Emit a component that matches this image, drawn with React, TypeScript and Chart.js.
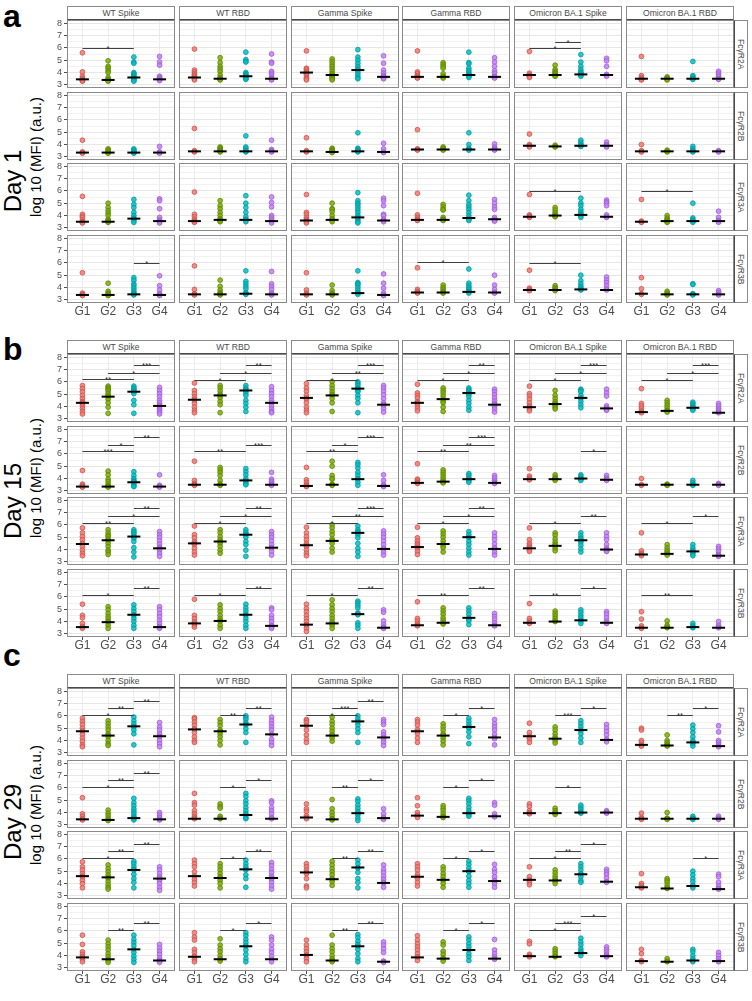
import React, { useEffect, useRef } from 'react';
import { Chart, registerables } from 'chart.js';

Chart.register(...registerables);

const FONT = "'Liberation Sans', Arial, Helvetica, sans-serif";
Chart.defaults.font.family = FONT;

const groups = ['G1', 'G2', 'G3', 'G4'];
const antigens = ['WT Spike', 'WT RBD', 'Gamma Spike', 'Gamma RBD', 'Omicron BA.1 Spike', 'Omicron BA.1 RBD'];
const receptors = ['FcγR2A', 'FcγR2B', 'FcγR3A', 'FcγR3B'];
const dayLabels = ['Day 1', 'Day 15', 'Day 29'];
const panelLetters = ['a', 'b', 'c'];
const yTitle = 'log 10 (MFI) (a.u.)';
const yTickValues = [3, 3.5, 4, 4.5, 5, 5.5, 6, 6.5, 7, 7.5, 8];

// ---------- Day 1 : values per antigen -> per group ----------
const d1_R2A = [
  [[5.6,4.05,3.7,3.55,3.45,3.4,3.35,3.3],[4.95,4.5,4.35,4.15,4.0,3.6,3.45,3.4,3.35,3.3],[5.25,4.85,4.75,4.0,3.9,3.8,3.7,3.6,3.55,3.45,3.4,3.3],[5.3,4.85,4.6,3.7,3.6,3.5,3.45,3.4,3.35]],
  [[5.9,4.2,4.05,3.9,3.8,3.7,3.6,3.5,3.4],[5.2,4.8,4.5,4.3,4.1,3.8,3.6,3.5,3.45,3.4],[5.65,5.05,4.9,4.85,4.0,3.9,3.8,3.7,3.6,3.5,3.45],[5.5,4.85,4.75,4.1,3.95,3.8,3.6,3.5,3.45,3.4]],
  [[5.75,4.35,4.25,4.1,4.0,3.9,3.8,3.6,3.5,3.4],[5.1,4.9,4.7,4.5,4.3,4.1,3.9,3.8,3.7,3.6,3.5,3.4],[5.85,5.25,5.0,4.75,4.5,4.3,4.2,4.0,3.8,3.6,3.5],[5.35,4.75,4.2,3.95,3.75,3.65,3.55,3.5]],
  [[5.75,4.05,3.9,3.75,3.65,3.6,3.55],[4.8,4.65,4.5,4.35,3.9,3.7,3.65,3.55],[5.65,4.8,4.7,4.35,4.15,4.0,3.85,3.8,3.7,3.6],[5.2,4.85,4.5,4.15,3.95,3.7,3.65,3.55]],
  [[5.7,3.95,3.8,3.75,3.7,3.6],[4.6,4.25,4.1,4.0,3.9,3.8,3.75,3.7],[5.45,4.85,4.5,4.25,4.05,3.95,3.85,3.8,3.7],[5.15,4.95,4.5,3.85,3.8,3.7]],
  [[5.3,3.75,3.6,3.5,3.45,3.4],[3.65,3.55,3.5,3.45,3.4],[4.9,3.75,3.65,3.5,3.45],[4.1,3.95,3.8,3.65,3.5,3.45]],
];
const d1_R2B = [
  [[4.35,3.4,3.35,3.3],[3.65,3.55,3.45,3.35,3.3],[3.65,3.55,3.45,3.35,3.3],[3.85,3.4,3.35,3.3]],
  [[5.3,3.5,3.45,3.4],[3.8,3.7,3.6,3.5,3.45,3.4],[4.7,3.8,3.65,3.5,3.45,3.4],[4.35,3.6,3.5,3.45,3.4]],
  [[4.55,3.5,3.45,3.4],[3.7,3.6,3.5,3.4,3.35],[4.95,3.7,3.6,3.5,3.45,3.4],[4.1,3.65,3.4,3.35]],
  [[5.2,3.65,3.6,3.55],[3.8,3.7,3.6,3.55],[4.95,4.0,3.7,3.6,3.55],[4.05,3.8,3.7,3.6,3.55]],
  [[4.85,4.0,3.9,3.8],[3.95,3.85,3.8],[4.35,4.15,4.0,3.9,3.85],[4.2,4.0,3.9,3.8]],
  [[4.0,3.5,3.45,3.4],[3.55,3.45,3.4],[3.85,3.65,3.5,3.45,3.4],[3.5,3.45,3.4]],
];
const d1_R3A = [
  [[5.55,4.1,3.95,3.85,3.65,3.5,3.45,3.4],[5.0,4.65,4.4,4.2,4.0,3.7,3.6,3.5,3.45],[5.3,4.9,4.65,4.25,4.0,3.8,3.75,3.6,3.45],[5.35,5.2,4.55,3.85,3.65,3.55,3.5,3.4]],
  [[5.9,4.1,3.9,3.7,3.55,3.5,3.45],[5.2,4.8,4.55,4.25,4.0,3.75,3.65,3.55,3.5],[5.6,5.0,4.65,4.25,3.9,3.7,3.65,3.5],[5.5,5.05,4.7,4.0,3.85,3.7,3.55,3.4]],
  [[5.7,4.25,4.1,3.85,3.7,3.6,3.5,3.4],[5.0,4.55,4.5,4.3,4.0,3.75,3.65,3.5],[5.85,5.2,5.0,4.85,4.65,4.45,4.25,4.0,3.85,3.65,3.5,3.4],[5.4,5.2,4.8,4.1,4.0,3.7,3.6,3.5]],
  [[5.8,4.05,3.85,3.7,3.65,3.6],[4.9,4.7,4.5,4.45,3.85,3.7,3.65,3.6],[5.65,5.2,4.9,4.7,4.5,4.25,4.0,3.8,3.7,3.6],[5.3,5.0,4.7,4.5,3.85,3.7,3.6,3.55]],
  [[5.7,4.05,3.95,3.9,3.85],[4.65,4.45,4.25,4.1,4.0,3.95,3.9],[5.4,5.0,4.8,4.5,4.3,4.15,4.05,4.0,3.85],[5.25,5.1,5.0,4.8,4.05,3.9,3.85]],
  [[5.3,3.55,3.5,3.45],[4.0,3.8,3.7,3.6,3.5,3.45],[5.0,3.8,3.65,3.55,3.45],[4.35,3.85,3.6,3.55,3.45]],
];
const d1_R3B = [
  [[5.2,3.55,3.45,3.4,3.35],[4.35,3.7,3.55,3.45,3.4,3.35],[4.8,4.6,4.3,4.15,3.95,3.75,3.6,3.5,3.45,3.4],[4.95,4.15,3.8,3.5,3.4,3.35]],
  [[5.75,3.85,3.5,3.45,3.4],[4.6,4.1,3.8,3.6,3.5,3.45,3.4],[5.35,4.5,4.3,4.1,3.9,3.6,3.5,3.45],[5.3,4.3,4.1,3.85,3.55,3.45,3.4]],
  [[5.2,3.8,3.55,3.45,3.4],[4.2,3.75,3.55,3.45,3.4],[5.35,4.4,4.3,4.2,4.0,3.8,3.6,3.55,3.45],[5.1,4.35,3.95,3.55,3.4,3.35]],
  [[5.6,3.85,3.7,3.6,3.55],[4.2,4.0,3.85,3.7,3.6,3.55],[5.5,4.35,4.15,4.0,3.85,3.7,3.65,3.55],[5.0,4.2,3.85,3.6,3.55]],
  [[5.4,3.95,3.85,3.8,3.75],[4.15,4.0,3.9,3.8,3.75],[5.0,4.55,4.3,4.1,3.95,3.85,3.8],[4.85,4.6,4.4,4.15,3.9,3.8]],
  [[4.8,3.9,3.5,3.45],[3.7,3.55,3.45,3.4],[4.3,4.25,3.5,3.45,3.4],[3.75,3.6,3.45,3.4]],
];
const d1_med = [
  [[3.45,3.4,3.6,3.45],[3.6,3.5,3.7,3.5],[4.0,3.8,4.2,3.65],[3.65,3.65,3.8,3.65],[3.8,3.8,3.85,3.8],[3.5,3.5,3.5,3.5]],
  [[3.35,3.35,3.35,3.35],[3.45,3.45,3.45,3.45],[3.45,3.4,3.45,3.4],[3.6,3.6,3.6,3.6],[3.9,3.85,3.9,3.9],[3.45,3.45,3.45,3.45]],
  [[3.5,3.5,3.75,3.55],[3.55,3.65,3.65,3.55],[3.6,3.65,3.85,3.6],[3.65,3.65,3.8,3.7],[3.9,4.0,4.05,3.9],[3.5,3.55,3.55,3.55]],
  [[3.4,3.4,3.45,3.4],[3.45,3.45,3.5,3.45],[3.45,3.45,3.55,3.4],[3.6,3.6,3.65,3.6],[3.8,3.8,3.85,3.8],[3.5,3.45,3.45,3.45]],
];
// [row, col, fromGroup, toGroup, y, label]
const d1_sig = [
  [0,0,0,2,6.0,'*'],[0,4,0,2,6.0,'*'],[0,4,1,2,6.5,'*'],
  [2,4,0,2,6.0,'*'],[2,5,0,2,6.0,'*'],
  [3,0,2,3,6.0,'*'],[3,3,0,2,6.05,'*'],[3,4,0,2,6.0,'*'],
];

// ---------- Day 15 ----------
const d15_R2A = [
  [[5.7,5.45,5.2,4.9,4.65,4.4,4.3,4.25,4.05,3.85,3.6,3.4],[5.65,5.5,5.4,5.25,5.05,4.9,4.8,4.6,4.3,3.95,3.45],[5.65,5.5,5.4,5.25,5.2,5.05,4.5,4.15,3.45],[5.55,5.3,5.05,4.8,4.5,4.3,4.1,4.05,3.85,3.7,3.55,3.4]],
  [[5.9,5.3,5.05,4.8,4.6,4.5,4.25,3.95,3.7,3.5],[5.7,5.5,5.25,5.0,4.9,4.7,4.4,4.15,3.5],[5.7,5.5,5.35,5.3,5.1,4.9,4.5,4.25,3.95,3.6],[5.6,5.3,5.05,4.8,4.5,4.3,4.05,3.8,3.6,3.5]],
  [[5.85,5.5,5.25,4.9,4.7,4.6,4.3,3.95,3.7,3.5],[6.0,5.7,5.45,5.2,5.0,4.9,4.65,4.3,3.6],[6.0,5.85,5.7,5.5,5.45,5.3,5.2,4.9,4.65,4.3,3.5],[5.7,5.5,5.25,4.95,4.65,4.3,4.15,4.1,3.85,3.55]],
  [[5.8,5.1,4.9,4.7,4.4,4.3,4.25,4.05,3.85,3.65],[5.5,5.3,5.1,4.85,4.6,4.45,4.3,3.95,3.6],[5.5,5.35,5.25,5.1,5.0,4.8,4.5,4.25,3.95,3.7],[5.4,5.2,4.95,4.7,4.45,4.25,4.15,4.0,3.8,3.55]],
  [[5.65,5.05,4.85,4.6,4.3,4.05,3.95,3.8,3.65],[5.3,4.9,4.65,4.4,4.25,4.2,4.1,3.95,3.8],[5.4,5.3,5.2,4.9,4.7,4.65,4.4,4.15,3.9],[5.4,5.1,4.85,4.05,3.9,3.85,3.75,3.7]],
  [[5.45,4.25,4.05,3.85,3.65,3.55,3.5],[4.5,4.3,4.1,3.9,3.7,3.65,3.55],[4.35,4.2,4.05,3.95,3.9,3.8,3.7],[4.25,4.05,3.85,3.7,3.55,3.5]],
];
const d15_R2B = [
  [[4.65,3.55,3.45,3.35,3.3],[4.6,4.3,3.95,3.75,3.55,3.4,3.35,3.3],[4.55,4.25,4.0,3.85,3.75,3.7,3.55,3.4,3.35],[4.3,3.45,3.4,3.35,3.3]],
  [[5.4,3.85,3.6,3.5,3.45],[4.9,4.7,4.5,4.25,3.85,3.55,3.5,3.45],[4.8,4.55,4.3,4.0,3.85,3.75,3.6,3.5],[4.5,3.95,3.8,3.7,3.55,3.5,3.45]],
  [[4.9,3.9,3.7,3.5,3.4,3.35],[5.4,5.0,4.25,4.0,3.95,3.55,3.5,3.45],[5.3,5.1,4.85,4.5,4.25,4.0,3.95,3.7,3.45],[4.3,3.85,3.5,3.4,3.35]],
  [[5.2,3.95,3.85,3.7,3.65,3.6],[4.7,4.5,4.3,4.1,3.9,3.75,3.7,3.65],[4.4,4.25,4.05,3.95,3.85,3.7],[4.25,4.05,3.85,3.7,3.65,3.6]],
  [[4.8,4.2,4.05,3.95,3.9],[4.3,4.1,4.0,3.95,3.85],[4.3,4.15,4.0,3.95,3.85],[4.25,4.05,3.95,3.9,3.85]],
  [[4.0,3.5,3.45],[3.55,3.5,3.45],[3.85,3.65,3.5,3.45],[3.6,3.5,3.45]],
];
const d15_R3A = [
  [[5.75,5.35,5.05,4.8,4.5,4.45,4.25,3.95,3.7,3.5],[5.6,5.35,5.15,5.05,4.85,4.75,4.5,4.25,3.95,3.8,3.6],[5.6,5.45,5.35,5.2,5.05,4.9,4.65,4.15,3.8,3.4],[5.45,5.2,5.0,4.7,4.45,4.2,4.1,3.95,3.7,3.45]],
  [[5.9,5.2,4.95,4.65,4.5,4.4,4.1,3.8,3.55],[5.6,5.35,5.05,4.8,4.65,4.5,4.25,3.95,3.7],[5.6,5.4,5.25,5.2,5.0,4.65,4.4,3.95,3.45],[5.45,5.2,5.0,4.7,4.4,4.15,4.1,3.85,3.55]],
  [[5.8,5.35,5.05,4.8,4.5,4.35,4.25,3.95,3.7,3.5],[6.0,5.75,5.45,5.2,4.85,4.7,4.5,4.1,3.8],[5.9,5.6,5.45,5.35,5.2,4.95,4.5,4.1,3.8,3.45],[5.5,5.25,5.0,4.7,4.4,4.1,4.05,3.8,3.55]],
  [[5.8,4.95,4.7,4.5,4.35,4.2,4.1,3.85,3.6],[5.5,5.25,5.0,4.7,4.45,4.3,4.15,3.8],[5.45,5.2,5.0,4.95,4.65,4.4,4.1,3.8,3.55],[5.35,5.05,4.8,4.45,4.15,4.05,3.8,3.55]],
  [[5.75,4.8,4.5,4.35,4.2,4.1,3.95,3.85],[5.35,5.15,4.85,4.6,4.4,4.3,4.1,3.9],[5.35,5.1,4.9,4.75,4.6,4.35,4.05,3.8],[5.35,5.05,4.8,4.4,4.1,4.0,3.9,3.85]],
  [[5.35,3.9,3.7,3.6,3.5],[4.4,4.15,3.95,3.8,3.65,3.55],[4.4,4.15,3.95,3.85,3.8,3.65,3.5],[4.25,4.05,3.85,3.6,3.5,3.45]],
];
const d15_R3B = [
  [[5.4,4.5,4.3,3.85,3.6,3.55,3.45],[5.2,4.95,4.65,4.4,4.2,4.0,3.95,3.7,3.45],[5.35,5.05,4.8,4.55,4.5,4.25,4.0,3.7,3.45],[5.2,4.95,4.65,4.4,4.1,3.85,3.6,3.55,3.45]],
  [[5.8,4.5,4.25,4.0,3.85,3.7,3.55],[5.35,5.05,4.8,4.5,4.25,4.05,4.0,3.7,3.45],[5.4,5.1,4.85,4.6,4.5,4.25,4.0,3.7,3.45],[5.1,4.95,4.5,4.25,4.0,3.7,3.65,3.55,3.45]],
  [[5.4,5.05,4.8,4.5,4.25,4.0,3.75,3.7,3.45,3.2],[5.75,5.35,5.05,4.8,4.5,4.25,4.0,3.85,3.7,3.45],[5.65,5.5,5.3,5.1,4.7,4.6,4.55,3.9,3.7,3.45],[4.95,4.75,4.05,3.75,3.55,3.5,3.45]],
  [[5.6,4.25,4.05,3.85,3.7,3.65],[5.1,4.85,4.6,4.3,4.1,3.9,3.8],[5.1,4.85,4.6,4.3,4.2,4.05,3.75],[4.65,4.4,4.2,3.9,3.7,3.65]],
  [[5.45,4.25,4.05,3.9,3.85],[4.85,4.65,4.45,4.25,4.05,4.0],[4.95,4.75,4.5,4.3,4.1,4.05,3.85],[4.8,4.6,4.3,4.05,3.9,3.85]],
  [[4.8,4.2,3.65,3.5,3.45],[4.05,3.7,3.55,3.5],[3.85,3.65,3.55,3.5],[4.0,3.7,3.55,3.5]],
];
const d15_med = [
  [[4.3,4.8,5.2,4.05],[4.55,4.9,5.3,4.3],[4.7,4.9,5.45,4.15],[4.3,4.6,5.1,4.15],[3.95,4.2,4.7,3.85],[3.55,3.65,3.9,3.5]],
  [[3.35,3.35,3.7,3.35],[3.5,3.5,3.85,3.5],[3.4,3.5,3.95,3.4],[3.65,3.75,3.95,3.65],[3.95,3.95,4.0,3.9],[3.5,3.5,3.5,3.5]],
  [[4.45,4.75,5.05,4.1],[4.5,4.65,5.2,4.15],[4.35,4.7,5.35,4.05],[4.2,4.45,5.0,4.05],[4.1,4.3,4.75,4.0],[3.6,3.65,3.85,3.5]],
  [[3.55,3.95,4.55,3.55],[3.85,4.05,4.55,3.65],[3.75,3.85,4.6,3.5],[3.7,3.9,4.3,3.7],[3.9,4.0,4.1,3.9],[3.5,3.5,3.55,3.5]],
];
const d15_sig = [
  [0,0,0,2,6.2,'**'],[0,0,1,3,6.75,'*'],[0,0,2,3,7.35,'***'],
  [0,1,0,2,6.15,'*'],[0,1,1,3,6.75,'*'],[0,1,2,3,7.35,'**'],
  [0,2,0,2,6.15,'*'],[0,2,1,3,6.75,'**'],[0,2,2,3,7.35,'***'],
  [0,3,0,2,6.15,'*'],[0,3,1,3,6.75,'*'],[0,3,2,3,7.35,'**'],
  [0,4,0,2,6.15,'*'],[0,4,1,3,6.75,'*'],[0,4,2,3,7.35,'***'],
  [0,5,0,2,6.15,'*'],[0,5,1,3,6.75,'*'],[0,5,2,3,7.35,'***'],
  [1,0,0,2,6.2,'***'],[1,0,1,2,6.75,'*'],[1,0,2,3,7.35,'**'],
  [1,1,0,2,6.2,'**'],[1,1,2,3,6.75,'***'],
  [1,2,0,2,6.2,'**'],[1,2,1,2,6.75,'*'],[1,2,2,3,7.35,'***'],
  [1,3,0,2,6.2,'**'],[1,3,1,3,6.75,'**'],[1,3,2,3,7.35,'***'],
  [1,4,2,3,6.2,'*'],
  [2,0,0,2,6.15,'**'],[2,0,1,3,6.75,'*'],[2,0,2,3,7.35,'**'],
  [2,1,0,2,6.15,'*'],[2,1,1,3,6.75,'*'],[2,1,2,3,7.35,'**'],
  [2,2,0,2,6.15,'*'],[2,2,1,3,6.75,'**'],[2,2,2,3,7.35,'***'],
  [2,3,0,2,6.15,'*'],[2,3,1,3,6.75,'*'],[2,3,2,3,7.35,'**'],
  [2,4,0,2,6.15,'*'],[2,4,2,3,6.75,'**'],
  [2,5,0,2,6.15,'*'],[2,5,2,3,6.75,'*'],
  [3,0,0,2,6.15,'*'],[3,0,2,3,6.75,'**'],
  [3,1,0,2,6.15,'*'],[3,1,2,3,6.75,'**'],
  [3,2,0,2,6.15,'*'],[3,2,2,3,6.75,'**'],
  [3,3,0,2,6.15,'**'],[3,3,2,3,6.75,'**'],
  [3,4,0,2,6.15,'**'],[3,4,2,3,6.75,'*'],
  [3,5,0,2,6.15,'**'],
];

// ---------- Day 29 ----------
const d29_R2A = [
  [[5.8,5.55,5.3,5.0,4.8,4.75,4.5,4.2,3.95,3.65,3.5],[5.6,5.35,5.1,4.85,4.55,4.4,4.3,4.0,3.75,3.6],[5.9,5.6,5.35,5.15,5.1,4.85,4.55,3.65],[5.45,5.1,4.85,4.55,4.35,4.3,4.0,3.75,3.5]],
  [[5.85,5.75,5.5,5.25,4.95,4.9,4.65,4.3,4.0,3.85],[5.7,5.45,5.2,4.85,4.75,4.55,4.3,4.0,3.65],[6.0,5.85,5.7,5.45,5.3,5.25,4.95,4.65,3.85],[5.9,5.6,5.35,5.1,4.85,4.5,4.1,3.85,3.6]],
  [[5.7,5.6,5.45,5.2,4.85,4.45,4.1,3.85],[5.9,5.55,5.3,5.0,4.75,4.5,4.4,4.2,3.95],[6.0,5.75,5.55,5.5,5.25,4.95,4.65,3.85],[5.7,5.5,5.3,4.7,4.45,4.25,4.1,3.85,3.6]],
  [[5.7,5.5,5.25,4.9,4.75,4.55,4.2,3.85],[5.35,5.1,4.85,4.55,4.4,4.2,3.95,3.65],[5.8,5.55,5.3,5.1,5.0,4.7,4.3,3.75],[5.7,5.35,5.1,4.85,4.5,4.25,4.15,3.65]],
  [[5.4,4.65,4.35,4.25,4.1,3.85],[5.1,4.85,4.55,4.3,4.15,4.0,3.8],[5.6,5.35,5.1,4.85,4.8,4.55,4.2,3.85],[5.3,5.0,4.75,4.45,4.1,4.05,3.9]],
  [[5.0,4.85,4.0,3.85,3.65,3.6,3.55],[4.45,4.0,3.85,3.7,3.6,3.55],[5.25,4.95,4.65,4.3,4.0,3.85,3.75,3.55],[5.2,4.7,4.0,3.85,3.7,3.55,3.5]],
];
const d29_R2B = [
  [[5.2,3.9,3.7,3.5,3.45,3.4],[4.2,3.95,3.75,3.55,3.4,3.35],[5.15,4.8,4.55,4.3,4.1,3.9,3.7,3.55,3.5,3.4],[4.0,3.8,3.6,3.45,3.4]],
  [[5.55,4.8,4.6,4.15,3.9,3.7,3.55,3.5],[4.7,4.5,4.35,3.7,3.55,3.5],[5.55,5.3,4.95,4.7,4.4,4.15,3.9,3.8,3.6,3.5],[4.95,4.8,4.4,4.15,3.9,3.6,3.5]],
  [[4.7,4.3,4.1,3.75,3.6,3.5],[5.05,4.3,4.0,3.75,3.5,3.45,3.4],[5.1,4.9,4.6,4.35,4.1,3.95,3.8,3.55,3.35],[4.3,3.9,3.6,3.55,3.45]],
  [[5.2,4.55,4.0,3.8,3.75,3.6],[4.55,4.35,4.15,3.9,3.7,3.65,3.6],[5.15,4.95,4.7,4.4,4.15,3.95,3.85,3.7],[4.8,4.6,3.9,3.7,3.65]],
  [[4.7,4.5,4.15,4.0,3.95,3.9],[4.35,4.15,4.0,3.95,3.85],[4.6,4.4,4.25,4.05,4.0,3.95],[4.15,4.05,4.0,3.95]],
  [[3.95,3.6,3.5,3.45],[4.0,3.55,3.5,3.45],[3.7,3.55,3.5,3.45],[3.7,3.55,3.5,3.45]],
];
const d29_R3A = [
  [[5.75,5.35,5.1,4.8,4.6,4.55,4.25,4.0,3.65],[5.5,5.2,4.95,4.7,4.5,4.4,4.15,3.9,3.7,3.55],[5.8,5.6,5.35,5.15,5.1,4.75,4.4,4.1,3.65],[5.35,5.1,4.8,4.55,4.4,4.25,4.0,3.7,3.45]],
  [[5.9,5.6,5.35,4.95,4.6,4.35,4.1,3.8],[5.6,5.35,5.1,4.8,4.55,4.45,4.25,4.0,3.65],[5.9,5.6,5.35,5.15,5.1,4.7,4.4,3.7],[5.7,5.45,5.15,4.9,4.6,4.45,4.35,4.1,3.8,3.55]],
  [[5.6,5.35,5.1,4.9,4.8,4.4,3.8,3.65],[5.8,5.5,5.2,4.95,4.7,4.4,4.35,4.15,3.85],[5.9,5.6,5.3,5.25,4.9,4.4,4.1,3.65],[5.5,5.15,4.9,4.6,4.35,4.1,4.05,3.7]],
  [[5.6,5.35,5.1,4.75,4.55,4.4,4.1,3.8],[5.35,5.1,4.8,4.55,4.3,4.25,4.0,3.7],[5.8,5.55,5.25,5.0,4.95,4.6,4.25,4.0,3.7],[5.55,5.15,4.9,4.55,4.25,4.2,4.0,3.7]],
  [[5.35,4.55,4.3,4.25,4.1,3.9],[5.1,4.85,4.6,4.4,4.25,4.2,4.0],[5.6,5.35,5.1,4.8,4.75,4.55,4.25,4.1],[5.15,4.95,4.75,4.45,4.15,4.1]],
  [[4.8,4.0,3.85,3.7,3.65],[4.4,4.25,4.1,3.85,3.65,3.6],[5.0,4.7,4.4,4.15,3.85,3.8,3.65],[4.75,4.55,4.1,3.8,3.6,3.55]],
];
const d29_R3B = [
  [[5.65,4.9,4.3,4.1,3.9,3.85,3.7,3.5],[5.25,4.95,4.7,4.45,4.15,3.9,3.7,3.6,3.45],[5.65,5.3,5.05,4.8,4.5,4.25,3.95,3.7,3.45],[4.9,4.6,4.35,4.1,3.8,3.6,3.55,3.45]],
  [[5.85,5.5,5.25,4.5,4.25,3.95,3.9,3.7,3.5],[5.35,4.85,4.55,4.3,4.0,3.75,3.7,3.55],[5.85,5.6,5.3,5.05,4.8,4.75,4.45,4.1,3.75,3.5],[5.5,5.25,4.85,4.5,4.25,3.95,3.7,3.5]],
  [[5.25,4.85,4.55,4.3,4.05,4.0,3.75,3.5],[5.65,4.85,4.55,4.3,4.0,3.75,3.6,3.5],[5.7,5.45,5.15,4.9,4.75,4.5,4.15,3.75,3.5],[5.1,4.85,4.55,4.25,3.55,3.5,3.45]],
  [[5.6,5.25,4.95,4.7,4.45,4.15,3.9,3.85,3.6],[5.1,4.85,4.35,4.1,3.8,3.75,3.55],[5.5,5.25,4.95,4.7,4.45,4.15,3.9,3.6],[5.3,4.45,4.15,3.9,3.75,3.7]],
  [[5.15,4.95,4.1,3.95,3.9],[4.55,4.35,4.15,3.95,3.9],[5.4,5.1,4.85,4.55,4.35,4.2,4.0],[4.7,4.5,4.3,4.1,3.95,3.9]],
  [[4.5,4.15,3.6,3.55,3.5],[3.75,3.55,3.5],[4.5,4.3,4.0,3.75,3.6,3.5],[4.25,4.0,3.75,3.55,3.5]],
];
const d29_med = [
  [[4.75,4.4,5.15,4.35],[4.9,4.75,5.3,4.5],[5.2,4.4,5.55,4.25],[4.75,4.4,5.1,4.25],[4.35,4.15,4.85,4.05],[3.65,3.6,3.85,3.55]],
  [[3.45,3.4,3.55,3.45],[3.5,3.5,3.8,3.5],[3.6,3.45,3.95,3.55],[3.75,3.65,3.95,3.7],[3.95,3.95,4.0,4.0],[3.5,3.5,3.5,3.5]],
  [[4.6,4.5,5.1,4.4],[4.6,4.45,5.15,4.45],[4.9,4.35,5.3,4.05],[4.55,4.3,5.0,4.2],[4.3,4.25,4.75,4.15],[3.7,3.6,3.8,3.55]],
  [[3.85,3.7,4.5,3.6],[3.9,3.7,4.75,3.7],[4.05,3.6,4.75,3.5],[3.85,3.75,4.45,3.75],[3.95,3.9,4.2,3.95],[3.55,3.5,3.6,3.55]],
];
const d29_sig = [
  [0,0,0,2,6.1,'*'],[0,0,1,2,6.65,'**'],[0,0,2,3,7.2,'**'],
  [0,1,1,2,6.1,'**'],[0,1,2,3,6.65,'**'],
  [0,2,0,2,6.1,'*'],[0,2,1,2,6.65,'***'],[0,2,2,3,7.2,'**'],
  [0,3,1,2,6.1,'*'],[0,3,2,3,6.65,'*'],
  [0,4,1,2,6.1,'***'],[0,4,2,3,6.65,'*'],
  [0,5,1,2,6.1,'**'],[0,5,2,3,6.65,'*'],
  [1,0,0,2,6.1,'*'],[1,0,1,2,6.65,'**'],[1,0,2,3,7.2,'**'],
  [1,1,1,2,6.1,'*'],[1,1,2,3,6.65,'*'],
  [1,2,1,2,6.1,'**'],[1,2,2,3,6.65,'*'],
  [1,3,1,2,6.1,'*'],[1,3,2,3,6.65,'*'],
  [1,4,1,2,6.1,'*'],
  [2,0,0,2,6.1,'*'],[2,0,1,2,6.65,'**'],[2,0,2,3,7.2,'**'],
  [2,1,1,2,6.1,'*'],[2,1,2,3,6.65,'**'],
  [2,2,1,2,6.1,'**'],[2,2,2,3,6.65,'**'],
  [2,3,1,2,6.1,'*'],[2,3,2,3,6.65,'*'],
  [2,4,0,2,6.1,'*'],[2,4,1,2,6.65,'**'],[2,4,2,3,7.2,'*'],
  [2,5,2,3,6.1,'*'],
  [3,0,1,2,6.1,'**'],[3,0,2,3,6.65,'**'],
  [3,1,1,2,6.1,'*'],[3,1,2,3,6.65,'*'],
  [3,2,1,2,6.1,'**'],[3,2,2,3,6.65,'**'],
  [3,3,1,2,6.1,'*'],[3,3,2,3,6.65,'*'],
  [3,4,0,2,6.1,'*'],[3,4,1,2,6.65,'***'],[3,4,2,3,7.2,'*'],
];

const dayValues = [
  [d1_R2A, d1_R2B, d1_R3A, d1_R3B],
  [d15_R2A, d15_R2B, d15_R3A, d15_R3B],
  [d29_R2A, d29_R2B, d29_R3A, d29_R3B],
];
const dayMedians = [d1_med, d15_med, d29_med];
const daySig = [d1_sig, d15_sig, d29_sig];

// ---------- styling / layout ----------
const groupFill = ['rgba(248,118,109,0.85)', 'rgba(124,174,0,0.85)', 'rgba(0,191,196,0.85)', 'rgba(199,124,255,0.85)'];
const groupEdge = ['#c4544c', '#5a8400', '#00979b', '#9a5ccc'];
const COL_LEFT = [67, 179, 291, 402, 514, 626];
const PANEL_W = 108;
const ROW_TOP = [20, 92, 163, 235];
const PANEL_H = 68;
const BLOCK_OFF = [0, 334, 668];
const YW = 22;
const XH = 18;
const STRIP_X = 734;
const STRIP_W = 14;
const LETTER_TOP = [0, 333, 639];
const DAY_CY = [181, 501, 822];
const LOG_CY = [157, 478, 805];
const BORDER = '#8a8a8a';

function Facet({ d, r, c }: { d: number; r: number; c: number }) {
  const ref = useRef<HTMLCanvasElement | null>(null);
  const showY = c === 0;
  const showX = r === 3;
  const w = PANEL_W + (showY ? YW : 0);
  const h = PANEL_H + (showX ? XH : 0);
  const left = COL_LEFT[c] - (showY ? YW : 0);
  const top = BLOCK_OFF[d] + ROW_TOP[r];

  useEffect(() => {
    const vals = dayValues[d][r][c];
    const med = dayMedians[d][r][c];
    const sig = daySig[d].filter((s: any[]) => s[0] === r && s[1] === c);

    const framePlugin = {
      id: 'frame',
      afterDraw(chart: any) {
        const { ctx, chartArea: a } = chart;
        ctx.save();
        ctx.strokeStyle = BORDER;
        ctx.lineWidth = 1;
        ctx.strokeRect(a.left + 0.5, a.top + 0.5, a.right - a.left - 1, a.bottom - a.top - 1);
        ctx.restore();
      },
    };
    const bracketPlugin = {
      id: 'brackets',
      afterDatasetsDraw(chart: any) {
        const { ctx, scales } = chart;
        ctx.save();
        ctx.strokeStyle = '#404040';
        ctx.fillStyle = '#333333';
        ctx.lineWidth = 1;
        ctx.font = `8px ${FONT}`;
        ctx.textAlign = 'center';
        ctx.textBaseline = 'alphabetic';
        sig.forEach((s: any[]) => {
          const x1 = scales.x.getPixelForValue(s[2]);
          const x2 = scales.x.getPixelForValue(s[3]);
          const y = Math.round(scales.y.getPixelForValue(s[4])) + 0.5;
          ctx.beginPath();
          ctx.moveTo(x1, y);
          ctx.lineTo(x2, y);
          ctx.stroke();
          ctx.fillText(s[5], (x1 + x2) / 2, y + 2);
        });
        ctx.restore();
      },
    };

    const datasets: any[] = [
      {
        label: 'median',
        data: med.map((m: number, i: number) => ({ x: i, y: m })),
        showLine: false,
        pointStyle: 'line',
        pointRadius: 6.5,
        pointBorderWidth: 2,
        pointBorderColor: '#000000',
        pointBackgroundColor: '#000000',
        order: 0,
      },
      ...vals.map((arr: number[], i: number) => ({
        label: groups[i],
        data: arr.map((v) => ({ x: i, y: v })),
        showLine: false,
        pointStyle: 'circle',
        pointRadius: 2.4,
        pointBorderWidth: 0.8,
        pointBackgroundColor: groupFill[i],
        pointBorderColor: groupEdge[i],
        order: 1,
      })),
    ];

    const chart = new Chart(ref.current as HTMLCanvasElement, {
      type: 'scatter',
      data: { datasets },
      options: {
        animation: false,
        responsive: false,
        maintainAspectRatio: false,
        devicePixelRatio: 1,
        events: [],
        layout: { padding: 0, autoPadding: false },
        plugins: { legend: { display: false }, tooltip: { enabled: false }, title: { display: false } },
        scales: {
          x: {
            type: 'linear',
            min: -0.6,
            max: 3.6,
            afterBuildTicks: (s: any) => { s.ticks = [0, 1, 2, 3].map((v) => ({ value: v })); },
            afterFit: (s: any) => {
              s.height = showX ? XH : 0;
              s.paddingLeft = 0; s.paddingRight = 0; s.paddingTop = 0; s.paddingBottom = 0;
            },
            ticks: {
              display: showX,
              autoSkip: false,
              maxRotation: 0,
              padding: 0,
              color: '#4d4d4d',
              font: { size: 12, lineHeight: 1 },
              callback: (v: any) => groups[v] ?? '',
            },
            grid: { color: '#ebebeb', lineWidth: 1, drawTicks: showX, tickLength: 3, tickColor: '#4d4d4d' },
            border: { display: false },
          },
          y: {
            type: 'linear',
            min: 2.75,
            max: 8.25,
            afterBuildTicks: (s: any) => { s.ticks = yTickValues.map((v) => ({ value: v })); },
            afterFit: (s: any) => {
              s.width = showY ? YW : 0;
              s.paddingLeft = 0; s.paddingRight = 0; s.paddingTop = 0; s.paddingBottom = 0;
            },
            ticks: {
              display: showY,
              autoSkip: false,
              padding: 2,
              color: '#4d4d4d',
              font: { size: 9, lineHeight: 1 },
              callback: (v: any) => (Number.isInteger(v) ? String(v) : ''),
            },
            grid: {
              color: (ctx: any) => (Number.isInteger(ctx.tick?.value) ? '#e6e6e6' : '#f1f1f1'),
              lineWidth: 1,
              drawTicks: showY,
              tickLength: 3,
              tickColor: (ctx: any) => (Number.isInteger(ctx.tick?.value) ? '#4d4d4d' : 'rgba(0,0,0,0)'),
            },
            border: { display: false },
          },
        },
      } as any,
      plugins: [bracketPlugin, framePlugin],
    });
    return () => chart.destroy();
  }, [d, r, c]);

  return (
    <canvas
      ref={ref}
      width={w}
      height={h}
      style={{ position: 'absolute', left, top, width: w, height: h, display: 'block' }}
    />
  );
}

function rotated(cx: number, cy: number, size: number): React.CSSProperties {
  return {
    position: 'absolute',
    left: cx,
    top: cy,
    transform: 'translate(-50%, -50%) rotate(-90deg)',
    whiteSpace: 'nowrap',
    fontSize: size,
    lineHeight: 1,
    fontFamily: FONT,
    color: '#000',
  };
}

export default function App() {
  const items: React.ReactNode[] = [];
  for (let d = 0; d < 3; d++) {
    const off = BLOCK_OFF[d];
    items.push(
      <div key={`L${d}`} style={{ position: 'absolute', left: 3, top: LETTER_TOP[d], fontSize: 32, fontWeight: 'bold', lineHeight: '32px', fontFamily: FONT, color: '#000' }}>
        {panelLetters[d]}
      </div>
    );
    items.push(<div key={`D${d}`} style={rotated(13, DAY_CY[d], 24)}>{dayLabels[d]}</div>);
    items.push(<div key={`Y${d}`} style={rotated(35, LOG_CY[d], 15)}>{yTitle}</div>);
    for (let c = 0; c < 6; c++) {
      items.push(
        <div
          key={`S${d}-${c}`}
          style={{
            position: 'absolute', left: COL_LEFT[c], top: off + 6, width: PANEL_W, height: 14,
            boxSizing: 'border-box', border: `1px solid ${BORDER}`, borderBottom: '1px solid #4a4a4a',
            background: '#fff', fontFamily: FONT, fontSize: 8.6, fontWeight: 400, lineHeight: '12px', textAlign: 'center',
            color: '#4a4a4a', whiteSpace: 'nowrap', overflow: 'hidden',
          }}
        >
          {antigens[c]}
        </div>
      );
    }
    for (let r = 0; r < 4; r++) {
      items.push(
        <div
          key={`R${d}-${r}`}
          style={{
            position: 'absolute', left: STRIP_X, top: off + ROW_TOP[r], width: STRIP_W, height: PANEL_H,
            boxSizing: 'border-box', border: `1px solid ${BORDER}`, borderLeft: '1px solid #4a4a4a',
            background: '#fff', display: 'flex', alignItems: 'center', justifyContent: 'center',
          }}
        >
          <span style={{ writingMode: 'vertical-rl', fontFamily: FONT, fontSize: 8.6, fontWeight: 400, lineHeight: '12px', color: '#4a4a4a', whiteSpace: 'nowrap' }}>
            {receptors[r]}
          </span>
        </div>
      );
      for (let c = 0; c < 6; c++) {
        items.push(<Facet key={`F${d}-${r}-${c}`} d={d} r={r} c={c} />);
      }
    }
  }
  return (
    <div style={{ position: 'absolute', left: 0, top: 0, width: 752, height: 1001, background: '#fff', overflow: 'hidden' }}>
      {items}
    </div>
  );
}
